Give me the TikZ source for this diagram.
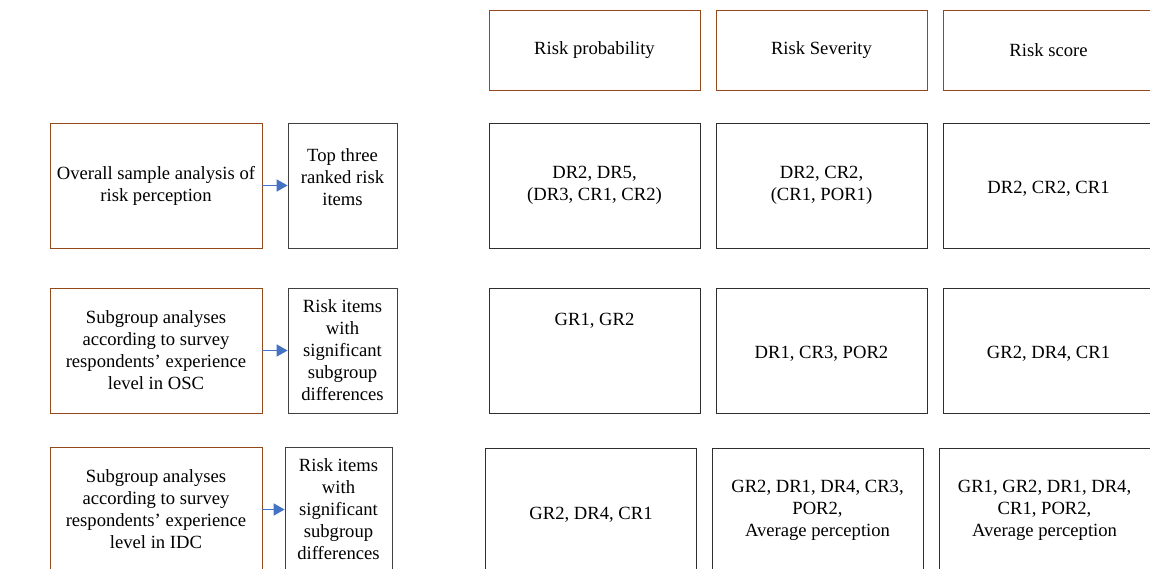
\documentclass[tikz,border=0pt]{standalone}
\usepackage{fontspec}
\setmainfont{Liberation Serif}
\usepackage{tikz}
\usetikzlibrary{arrows.meta,positioning}
\definecolor{Stage}{HTML}{94491A}
\definecolor{Outc}{HTML}{404040}
\definecolor{Cell}{HTML}{2E2E2E}
\definecolor{Flow}{HTML}{4472C4}

\begin{document}
\begin{tikzpicture}[every node/.style={font=\fontsize{10.6}{12.5}\selectfont, align=center, inner sep=1pt},stage/.style={draw=Stage, line width=0.45pt, minimum width=4.24cm, minimum height=2.5cm},head/.style={draw=Stage, line width=0.45pt, minimum width=4.22cm, minimum height=1.6cm},outc/.style={draw=Outc, line width=0.45pt, minimum width=2.18cm, minimum height=2.5cm},cell/.style={draw=Cell, line width=0.45pt, minimum width=4.22cm, minimum height=2.5cm},flow/.style={draw=Flow, line width=1pt, -{Triangle[length=2.2mm,width=2.4mm]}}]
\useasboundingbox (0,0) rectangle (23,-11.38);
\node[head] (hprob) at (11.89,-1.0) {Risk probability};
\node[head] (hsev) at (16.43,-1.0) {Risk Severity};
\node[head] (hscore) at (20.97,-1.0) {Risk score};
\node[stage] (all) at (3.12,-3.71) {Overall sample analysis of\\ risk perception};
\node[outc] (top) at (6.85,-3.71) {Top three\\ ranked risk\\ items\\[-0.1cm]~};
\node[cell] (prob1) at (11.89,-3.71) {DR2, DR5,\\ (DR3, CR1, CR2)};
\node[cell] (sev1) at (16.43,-3.71) {DR2, CR2,\\ (CR1, POR1)};
\node[cell] (score1) at (20.97,-3.71) {~\\[-0.06cm]DR2, CR2, CR1};
\node[stage] (osc) at (3.12,-7.01) {Subgroup analyses\\ according to survey\\ respondents’ experience\\ level in OSC};
\node[outc] (sigosc) at (6.85,-7.01) {Risk items\\ with\\ significant\\ subgroup\\ differences};
\node[cell] (prob2) at (11.89,-7.01) {GR1, GR2\\[0.66cm]\strut};
\node[cell] (sev2) at (16.43,-7.01) {~\\[-0.06cm]DR1, CR3, POR2};
\node[cell] (score2) at (20.97,-7.01) {~\\[-0.06cm]GR2, DR4, CR1};
\node[stage] (idc) at (3.12,-10.19) {Subgroup analyses\\ according to survey\\ respondents’ experience\\ level in IDC};
\node[outc, minimum width=2.14cm] (sigidc) at (6.77,-10.19) {Risk items\\ with\\ significant\\ subgroup\\ differences};
\node[cell] (prob3) at (11.82,-10.21) {~\\[-0.02cm]GR2, DR4, CR1};
\node[cell] (sev3) at (16.35,-10.21) {GR2, DR1, DR4, CR3,\\ POR2,\\ Average perception};
\node[cell] (score3) at (20.89,-10.21) {GR1, GR2, DR1, DR4,\\ CR1, POR2,\\ Average perception};
\draw[flow] (all) -- (top);
\draw[flow] (osc) -- (sigosc);
\draw[flow] (idc) -- (sigidc);
\end{tikzpicture}
\end{document}
